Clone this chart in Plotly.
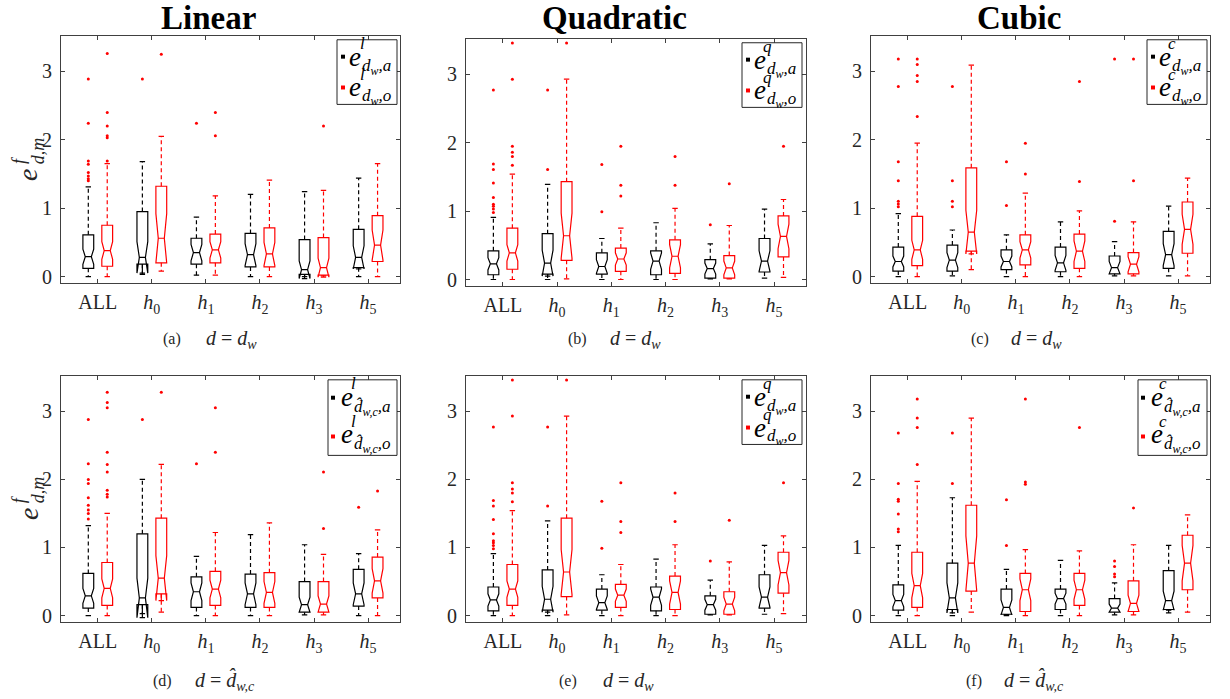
import plotly.graph_objects as go

W, H = 1230, 699

CATS = ["ALL", "<i>h</i><sub>0</sub>", "<i>h</i><sub>1</sub>", "<i>h</i><sub>2</sub>",
        "<i>h</i><sub>3</sub>", "<i>h</i><sub>5</sub>"]
YTICKS = [0, 1, 2, 3]
TITLES = ["Linear", "Quadratic", "Cubic"]

# rows per category: (lower whisker, q1, median, q3, upper whisker, notch half-span)
LIN_DW_A = [(0.00, 0.12, 0.29, 0.61, 1.31, 0.11), (0.03, 0.18, 0.28, 0.95, 1.68, 0.23),
            (0.02, 0.18, 0.35, 0.56, 0.87, 0.12), (0.00, 0.14, 0.32, 0.63, 1.20, 0.16),
            (0.00, 0.03, 0.10, 0.54, 1.24, 0.13), (0.00, 0.13, 0.28, 0.69, 1.44, 0.17)]
LIN_DW_O = [(0.00, 0.15, 0.38, 0.75, 1.65, 0.13), (0.08, 0.20, 0.56, 1.32, 2.05, 0.36),
            (0.02, 0.20, 0.39, 0.62, 1.18, 0.12), (0.00, 0.14, 0.33, 0.71, 1.41, 0.17),
            (0.01, 0.02, 0.13, 0.57, 1.26, 0.14), (0.00, 0.22, 0.46, 0.89, 1.65, 0.22)]
LIN_DW_A_OUT = [[2.89, 2.24, 1.69, 1.64, 1.52, 1.47, 1.43, 1.40], [2.89], [2.24], [], [], []]
LIN_DW_O_OUT = [[3.26, 2.40, 2.20, 2.06, 2.03, 1.69], [3.25], [2.40, 2.06], [], [2.20], []]

QUA_DW_A = [(0.00, 0.07, 0.23, 0.42, 0.91, 0.09), (0.00, 0.08, 0.24, 0.67, 1.39, 0.19),
            (0.00, 0.08, 0.19, 0.39, 0.60, 0.10), (0.00, 0.07, 0.27, 0.42, 0.83, 0.12),
            (0.01, 0.02, 0.16, 0.29, 0.52, 0.08), (0.02, 0.11, 0.27, 0.60, 1.03, 0.15)]
QUA_DW_O = [(0.00, 0.15, 0.39, 0.75, 1.54, 0.12), (0.01, 0.28, 0.64, 1.43, 2.93, 0.33),
            (0.00, 0.12, 0.30, 0.46, 0.75, 0.09), (0.00, 0.09, 0.34, 0.58, 1.04, 0.17),
            (0.01, 0.02, 0.17, 0.35, 0.79, 0.10), (0.03, 0.33, 0.63, 0.93, 1.17, 0.18)]
QUA_DW_A_OUT = [[2.77, 1.69, 1.61, 1.41, 1.20, 1.10, 1.07, 1.03, 0.98], [2.77, 1.61],
                [1.68, 0.99], [], [0.80], []]
QUA_DW_O_OUT = [[3.46, 2.93, 1.95, 1.86, 1.80, 1.67], [3.46], [1.95, 1.38, 1.22],
                [1.80, 1.38], [1.40], [1.95]]

CUB_DW_A = [(0.00, 0.08, 0.22, 0.43, 0.92, 0.08), (0.01, 0.08, 0.24, 0.46, 0.68, 0.11),
            (0.00, 0.10, 0.22, 0.39, 0.61, 0.08), (0.00, 0.07, 0.20, 0.43, 0.80, 0.11),
            (0.01, 0.04, 0.13, 0.30, 0.51, 0.09), (0.01, 0.12, 0.32, 0.66, 1.03, 0.16)]
CUB_DW_O = [(0.00, 0.16, 0.39, 0.88, 1.95, 0.14), (0.10, 0.37, 0.65, 1.59, 3.09, 0.32),
            (0.00, 0.17, 0.39, 0.61, 1.22, 0.12), (0.00, 0.12, 0.37, 0.62, 0.96, 0.15),
            (0.01, 0.04, 0.18, 0.35, 0.80, 0.11), (0.01, 0.34, 0.69, 1.09, 1.44, 0.22)]
CUB_DW_A_OUT = [[3.18, 2.78, 1.68, 1.40, 1.10, 1.06, 1.02], [2.78, 1.40, 1.10, 1.02],
                [1.68, 1.04], [], [3.18, 0.81], []]
CUB_DW_O_OUT = [[3.18, 3.10, 2.94, 2.85, 2.34], [], [1.95, 1.50], [2.85, 1.39],
                [3.18, 1.40], []]

LIN_DH_A = [(0.00, 0.11, 0.29, 0.62, 1.32, 0.11), (0.03, 0.16, 0.26, 1.20, 2.00, 0.29),
            (0.00, 0.12, 0.35, 0.57, 0.87, 0.13), (0.00, 0.12, 0.32, 0.61, 1.19, 0.16),
            (0.01, 0.05, 0.16, 0.50, 1.04, 0.11), (0.00, 0.14, 0.32, 0.68, 0.91, 0.16)]
LIN_DH_O = [(0.00, 0.15, 0.40, 0.78, 1.50, 0.14), (0.05, 0.32, 0.55, 1.43, 2.22, 0.33),
            (0.00, 0.15, 0.39, 0.65, 1.22, 0.13), (0.00, 0.12, 0.34, 0.63, 1.36, 0.16),
            (0.01, 0.05, 0.17, 0.50, 0.90, 0.12), (0.00, 0.26, 0.51, 0.86, 1.26, 0.18)]
LIN_DH_A_OUT = [[2.88, 2.23, 2.00, 1.94, 1.73, 1.62, 1.55, 1.50, 1.42], [2.88], [2.23],
                [], [], [1.59]]
LIN_DH_O_OUT = [[3.28, 3.13, 3.05, 2.40, 2.22, 2.11, 1.84, 1.78, 1.74], [3.28], [3.05, 2.40],
                [], [2.11, 1.28], [1.83]]

CUB_DH_A = [(0.00, 0.08, 0.22, 0.45, 1.03, 0.09), (0.00, 0.09, 0.26, 0.77, 1.73, 0.22),
            (0.00, 0.02, 0.12, 0.39, 0.68, 0.11), (0.00, 0.09, 0.25, 0.39, 0.81, 0.08),
            (0.01, 0.05, 0.11, 0.25, 0.48, 0.06), (0.04, 0.09, 0.22, 0.66, 1.03, 0.14)]
CUB_DH_O = [(0.00, 0.12, 0.44, 0.93, 1.97, 0.18), (0.05, 0.36, 0.77, 1.62, 2.90, 0.40),
            (0.00, 0.06, 0.38, 0.62, 0.97, 0.16), (0.00, 0.15, 0.38, 0.62, 0.95, 0.14),
            (0.01, 0.06, 0.18, 0.51, 1.04, 0.12), (0.05, 0.38, 0.77, 1.18, 1.48, 0.26)]
CUB_DH_A_OUT = [[2.68, 1.94, 1.71, 1.68, 1.49, 1.27, 1.23], [2.68, 1.94], [1.70, 1.03], [],
                [0.80, 0.72, 0.61, 0.57], []]
CUB_DH_O_OUT = [[3.18, 2.90, 2.76, 2.22], [], [3.18, 1.96, 1.93], [2.76], [1.58], []]

# panel (e) shows the same data as panel (b)
PANELS = [
    dict(a=LIN_DW_A, ao=LIN_DW_A_OUT, o=LIN_DW_O, oo=LIN_DW_O_OUT, sup="l", hat=False,
         cap="(a)", dx=(61, 400), dy=(36, 285), leg=(337, 40), capxy=(172, 231, 341)),
    dict(a=QUA_DW_A, ao=QUA_DW_A_OUT, o=QUA_DW_O, oo=QUA_DW_O_OUT, sup="q", hat=False,
         cap="(b)", dx=(466, 806), dy=(39, 288), leg=(742, 43), capxy=(577, 635, 341)),
    dict(a=CUB_DW_A, ao=CUB_DW_A_OUT, o=CUB_DW_O, oo=CUB_DW_O_OUT, sup="c", hat=False,
         cap="(c)", dx=(871, 1210), dy=(36, 285), leg=(1147, 40), capxy=(980, 1036, 341)),
    dict(a=LIN_DH_A, ao=LIN_DH_A_OUT, o=LIN_DH_O, oo=LIN_DH_O_OUT, sup="l", hat=True,
         cap="(d)", dx=(61, 400), dy=(378, 626), leg=(328, 382), capxy=(162, 225, 685)),
    dict(a=QUA_DW_A, ao=QUA_DW_A_OUT, o=QUA_DW_O, oo=QUA_DW_O_OUT, sup="q", hat=False,
         cap="(e)", dx=(466, 806), dy=(378, 626), leg=(742, 382), capxy=(568, 628, 685)),
    dict(a=CUB_DH_A, ao=CUB_DH_A_OUT, o=CUB_DH_O, oo=CUB_DH_O_OUT, sup="c", hat=True,
         cap="(f)", dx=(871, 1210), dy=(378, 626), leg=(1138, 382), capxy=(974, 1034, 685)),
]

SERIF = "Liberation Serif"
AXC = "#404040"
OFF = 0.175
BOXW = 0.2
CAPW = 0.05
XR = [0.32, 6.59]
YR = [-0.1, 3.52]


def px(x):
    return x / W


def py(y):
    return 1 - y / H


fig = go.Figure()
shapes, annos = [], []
layout = {}

for k, p in enumerate(PANELS):
    n = k + 1
    xa, ya = ("x" if n == 1 else f"x{n}"), ("y" if n == 1 else f"y{n}")
    xkey, ykey = ("xaxis" if n == 1 else f"xaxis{n}"), ("yaxis" if n == 1 else f"yaxis{n}")
    axstyle = dict(showline=True, linecolor=AXC, linewidth=1, mirror="ticks", ticks="inside",
                   ticklen=4, tickcolor=AXC, showgrid=False, zeroline=False,
                   tickfont=dict(family=SERIF, size=20, color="#262626"))
    layout[xkey] = dict(domain=[px(p["dx"][0]), px(p["dx"][1])], anchor=ya, range=XR,
                        tickmode="array", tickvals=list(range(1, 7)), ticktext=CATS,
                        ticklabelstandoff=1, **axstyle)
    layout[ykey] = dict(domain=[py(p["dy"][1]), py(p["dy"][0])], anchor=xa, range=YR,
                        tickmode="array", tickvals=YTICKS, ticktext=[str(v) for v in YTICKS],
                        ticklabelstandoff=4, **axstyle)

    for stats, outs, col, sgn in ((p["a"], p["ao"], "#000000", -1), (p["o"], p["oo"], "#ff0000", 1)):
        pos = [i + 1 + sgn * OFF for i in range(len(CATS))]
        lo = [r[0] for r in stats]
        q1 = [r[1] for r in stats]
        med = [r[2] for r in stats]
        q3 = [r[3] for r in stats]
        hi = [r[4] for r in stats]
        nsp = [r[5] for r in stats]
        # dashed whiskers and solid caps
        wx, wy, cx, cy = [], [], [], []
        for i, x0 in enumerate(pos):
            wx += [x0, x0, None, x0, x0, None]
            wy += [q3[i], hi[i], None, q1[i], lo[i], None]
            cx += [x0 - CAPW, x0 + CAPW, None, x0 - CAPW, x0 + CAPW, None]
            cy += [hi[i], hi[i], None, lo[i], lo[i], None]
        fig.add_trace(go.Scatter(x=wx, y=wy, mode="lines", xaxis=xa, yaxis=ya,
                                 line=dict(color=col, width=1.2, dash="4px,3px"),
                                 showlegend=False, hoverinfo="skip"))
        fig.add_trace(go.Scatter(x=cx, y=cy, mode="lines", xaxis=xa, yaxis=ya,
                                 line=dict(color=col, width=1.2),
                                 showlegend=False, hoverinfo="skip"))
        fig.add_trace(go.Box(x=pos, q1=q1, median=med, q3=q3, lowerfence=q1, upperfence=q3,
                             notched=True, notchspan=nsp, notchwidth=0.22, width=BOXW,
                             line=dict(color=col, width=1.2), fillcolor="rgba(255,255,255,0)",
                             boxpoints=False, xaxis=xa, yaxis=ya, showlegend=False,
                             hoverinfo="skip"))
        ox, oy = [], []
        for i, x0 in enumerate(pos):
            for v in outs[i]:
                ox.append(x0)
                oy.append(v)
        fig.add_trace(go.Scatter(x=ox, y=oy, mode="markers", xaxis=xa, yaxis=ya,
                                 marker=dict(color="#ff0000", size=3), showlegend=False,
                                 hoverinfo="skip"))

    # legend box
    lx, ly = p["leg"]
    if p["hat"]:
        bw, bh = 69, 76
        sq = [(5, 18), (5, 57)]
        ep = [(11, 17), (11, 55)]
        spp = [(25, 4), (25, 42)]
        sbp = [(24, 28), (24, 66)]
        dsub = "<i>d&#770;</i><sub><i>w,c</i></sub><i>,</i>"
    else:
        bw, bh = 60, 65
        sq = [(6, 17), (6, 48)]
        ep = [(10, 17), (10, 48)]
        spp = [(25, 4), (25, 35)]
        sbp = [(23, 27), (23, 58)]
        dsub = "<i>d</i><sub><i>w</i></sub><i>,</i>"
    shapes.append(dict(type="rect", xref="paper", yref="paper", x0=px(lx), x1=px(lx + bw),
                       y0=py(ly + bh), y1=py(ly), line=dict(color="#262626", width=1),
                       fillcolor="white", layer="above"))
    for j, (col, sfx) in enumerate((("#000000", "a"), ("#ff0000", "o"))):
        sx, sy = lx + sq[j][0], ly + sq[j][1]
        shapes.append(dict(type="rect", xref="paper", yref="paper", x0=px(sx - 2), x1=px(sx + 2),
                           y0=py(sy + 2), y1=py(sy - 2), line=dict(width=0), fillcolor=col,
                           layer="above"))
        annos.append(dict(text="<i>e</i>", x=px(lx + ep[j][0]), y=py(ly + ep[j][1]),
                          xref="paper", yref="paper", xanchor="left", yanchor="middle",
                          showarrow=False, font=dict(family=SERIF, size=27, color="black")))
        annos.append(dict(text=f"<i>{p['sup']}</i>", x=px(lx + spp[j][0]), y=py(ly + spp[j][1]),
                          xref="paper", yref="paper", xanchor="center", yanchor="middle",
                          showarrow=False, font=dict(family=SERIF, size=17, color="black")))
        annos.append(dict(text=dsub + f"<i>{sfx}</i>", x=px(lx + sbp[j][0]), y=py(ly + sbp[j][1]),
                          xref="paper", yref="paper", xanchor="left", yanchor="middle",
                          showarrow=False, font=dict(family=SERIF, size=17, color="black")))

    # sub-caption: label and math part
    lxc, mxc, cyy = p["capxy"]
    rhs = "<i>d&#770;</i><sub><i>w,c</i></sub>" if p["hat"] else "<i>d</i><sub><i>w</i></sub>"
    annos.append(dict(text=p["cap"], x=px(lxc), y=py(cyy), xref="paper", yref="paper",
                      xanchor="center", yanchor="middle", showarrow=False,
                      font=dict(family=SERIF, size=16, color="#262626")))
    annos.append(dict(text="<i>d</i>&nbsp;=&nbsp;" + rhs, x=px(mxc), y=py(cyy),
                      xref="paper", yref="paper", xanchor="center", yanchor="middle",
                      showarrow=False, font=dict(family=SERIF, size=20, color="#262626")))

# column titles
for t, tx in zip(TITLES, [208, 614, 1019]):
    annos.append(dict(text=f"<b>{t}</b>", x=px(tx), y=py(18), xref="paper", yref="paper",
                      xanchor="center", yanchor="middle", showarrow=False,
                      font=dict(family=SERIF, size=33, color="black")))

# y-axis labels e^f_{d,m} for the left column
for dy in (0, 341):
    annos.append(dict(text="<i>e</i>", x=px(28), y=py(176 + dy), xref="paper", yref="paper",
                      textangle=-90, showarrow=False, xanchor="center", yanchor="middle",
                      font=dict(family=SERIF, size=28, color="#262626")))
    annos.append(dict(text="<i>f</i>", x=px(19), y=py(161 + dy), xref="paper", yref="paper",
                      textangle=-90, showarrow=False, xanchor="center", yanchor="middle",
                      font=dict(family=SERIF, size=18, color="#262626")))
    annos.append(dict(text="<i>d,m</i>", x=px(38), y=py(152 + dy), xref="paper", yref="paper",
                      textangle=-90, showarrow=False, xanchor="center", yanchor="middle",
                      font=dict(family=SERIF, size=18, color="#262626")))

fig.update_layout(width=W, height=H, autosize=False, margin=dict(l=0, r=0, t=0, b=0),
                  paper_bgcolor="white", plot_bgcolor="white", boxmode="overlay",
                  shapes=shapes, annotations=annos, **layout)

fig.write_html("out.html", config={"displayModeBar": False},
               post_script="document.body.style.margin='0px';")
